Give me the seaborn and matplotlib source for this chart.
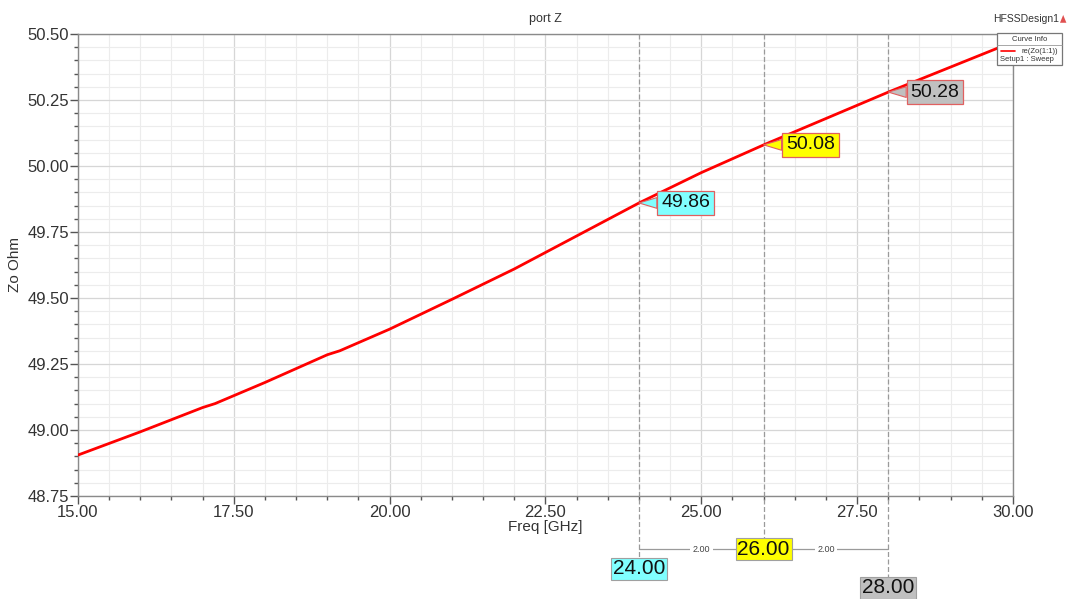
import numpy as np
import pandas as pd
import matplotlib
matplotlib.use("Agg")
import matplotlib.pyplot as plt
import matplotlib.transforms as mtransforms
from matplotlib.patches import Rectangle, Polygon
from matplotlib.lines import Line2D
from matplotlib.ticker import MultipleLocator, FormatStrFormatter
import seaborn as sns

# Port impedance sweep
freq_ghz = [15.0, 16.0, 17.0, 17.2, 18.0, 19.0, 19.2, 20.0, 21.0, 22.0, 23.0,
            24.0, 25.0, 26.0, 27.0, 28.0, 29.0, 30.0]
zo_ohm = [48.905, 48.993, 49.085, 49.100, 49.180, 49.285, 49.300, 49.382, 49.495,
          49.610, 49.735, 49.860, 49.975, 50.080, 50.180, 50.280, 50.375, 50.470]

# Markers
marker_freq = [24.0, 26.0, 28.0]
marker_vals = [49.86, 50.08, 50.28]
marker_names = ["24.00", "26.00", "28.00"]
marker_value_labels = ["49.86", "50.08", "50.28"]
marker_colors = ["#80FFFF", "#FFFF00", "#C0C0C0"]
delta_labels = ["2.00", "2.00"]

df = pd.DataFrame({"Freq [GHz]": freq_ghz, "Zo Ohm": zo_ohm})

sns.set_theme(style="white")
plt.rcParams["font.family"] = ["Liberation Sans", "DejaVu Sans"]

fig = plt.figure(figsize=(10.68, 5.99), dpi=100)
ax = fig.add_axes([0.073, 0.172, 0.8755, 0.7712])

sns.lineplot(data=df, x="Freq [GHz]", y="Zo Ohm", ax=ax, color="#FF0000",
             linewidth=2.0, zorder=5)

ax.set_xlim(15, 30)
ax.set_ylim(48.75, 50.5)
ax.xaxis.set_major_locator(MultipleLocator(2.5))
ax.xaxis.set_minor_locator(MultipleLocator(0.5))
ax.yaxis.set_major_locator(MultipleLocator(0.25))
ax.yaxis.set_minor_locator(MultipleLocator(0.05))
ax.xaxis.set_major_formatter(FormatStrFormatter("%.2f"))
ax.yaxis.set_major_formatter(FormatStrFormatter("%.2f"))

ax.grid(which="major", color="#d6d6d6", linewidth=0.9)
ax.grid(which="minor", color="#ececec", linewidth=0.8)
ax.set_axisbelow(True)

for s in ax.spines.values():
    s.set_color("#8a8a8a")
    s.set_linewidth(1.0)

ax.tick_params(axis="both", which="major", direction="out", length=5.5, width=1,
               color="#555555", labelsize=12, labelcolor="#333333", pad=1,
               left=True, bottom=True)
ax.tick_params(axis="both", which="minor", direction="out", length=3, width=1,
               color="#555555", left=True, bottom=True)

ax.set_xlabel("Freq [GHz]", fontsize=11, color="#333333", labelpad=0)
ax.set_ylabel("Zo Ohm", fontsize=11, color="#333333", labelpad=4)
ax.set_title("port Z", fontsize=9, color="#333333", pad=9)

# Marker lines extending below the axes
trans = mtransforms.blended_transform_factory(ax.transData, ax.transAxes)
line_bottoms = [-0.138, -0.095, -0.175]
label_y = [-0.158, -0.115, -0.199]
for f, yb, ly, name, c in zip(marker_freq, line_bottoms, label_y, marker_names, marker_colors):
    ax.plot([f, f], [1.0, yb], transform=trans, color="#9a9a9a", linewidth=0.9,
            linestyle=(0, (4, 2)), clip_on=False, zorder=3)
    ax.text(f, ly, name, transform=trans, ha="center", va="center", fontsize=15,
            color="#111111", zorder=6, clip_on=False,
            bbox=dict(boxstyle="square,pad=0.08", fc=c, ec="#a0a0a0", lw=0.8))

# Delta line between markers
delta_y = -0.115
ax.plot([marker_freq[0], marker_freq[-1]], [delta_y, delta_y], transform=trans,
        color="#9a9a9a", linewidth=0.9, clip_on=False, zorder=4)
for i, lbl in enumerate(delta_labels):
    mid = (marker_freq[i] + marker_freq[i + 1]) / 2
    ax.text(mid, delta_y, lbl, transform=trans, ha="center", va="center",
            fontsize=6.5, color="#444444", clip_on=False, zorder=5,
            bbox=dict(boxstyle="square,pad=0.3", fc="white", ec="none"))

# Value callouts on the curve
for f, v, lbl, c in zip(marker_freq, marker_vals, marker_value_labels, marker_colors):
    ax.annotate(lbl, xy=(f, v), xytext=(16, 0), textcoords="offset points",
                ha="left", va="center", fontsize=14, color="#111111", zorder=7,
                bbox=dict(boxstyle="square,pad=0.2", fc=c, ec="#e06060", lw=0.9),
                arrowprops=dict(arrowstyle="wedge,tail_width=0.55,shrink_factor=0.5",
                                fc=c, ec="#e06060", lw=0.8, shrinkA=0, shrinkB=0))

# Header text and curve info box
fig.text(0.961, 0.969, "HFSSDesign1", ha="center", va="center", fontsize=7.5,
         color="#333333")
fig.patches.append(Polygon([[0.9925, 0.962], [0.9985, 0.962], [0.9955, 0.975]],
                           closed=True, transform=fig.transFigure, fc="#e05050",
                           ec="none"))
bx0, by0, bw, bh = 0.9335, 0.891, 0.0605, 0.054
fig.patches.append(Rectangle((bx0, by0), bw, bh, transform=fig.transFigure,
                             fc="white", ec="#777777", lw=0.9, zorder=10))
fig.lines.append(Line2D([bx0, bx0 + bw], [by0 + bh * 0.62, by0 + bh * 0.62],
                        transform=fig.transFigure, color="#999999", lw=0.6, zorder=11))
fig.text(bx0 + bw / 2, by0 + bh * 0.81, "Curve Info", ha="center", va="center",
         fontsize=5.5, color="#333333", zorder=12)
fig.lines.append(Line2D([bx0 + 0.004, bx0 + 0.017], [by0 + bh * 0.43, by0 + bh * 0.43],
                        transform=fig.transFigure, color="#ff0000", lw=1.2, zorder=12))
fig.text(bx0 + bw - 0.003, by0 + bh * 0.43, "re(Zo(1:1))", ha="right", va="center",
         fontsize=5.5, color="#333333", zorder=12)
fig.text(bx0 + 0.003, by0 + bh * 0.17, "Setup1 : Sweep", ha="left", va="center",
         fontsize=5.5, color="#333333", zorder=12)

fig.savefig("out.png", dpi=100, facecolor="white")
